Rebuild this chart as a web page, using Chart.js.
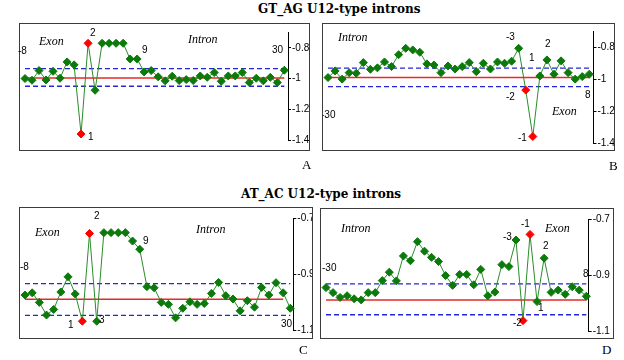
<!DOCTYPE html>
<html>
<head>
<meta charset="utf-8">
<script src="https://cdn.jsdelivr.net/npm/chart.js@4.4.1/dist/chart.umd.min.js"></script>
<style>
body { margin: 0; background: #fff; width: 624px; height: 360px; position: relative; overflow: hidden; font-family: "Liberation Sans", Arial, sans-serif; color: #000; }
.box { position: absolute; box-sizing: border-box; border: 1px solid #3c3c3c; overflow: hidden; }
.box canvas { position: absolute; left: 0; top: 0; }
.t { position: absolute; font-size: 10px; line-height: 10px; white-space: nowrap; color: #000; }
.it { position: absolute; font-family: "Liberation Serif", serif; font-style: italic; font-size: 12px; line-height: 12px; white-space: nowrap; color: #000; }
.title { position: absolute; font-family: "DejaVu Serif", serif; font-weight: bold; font-size: 12px; line-height: 12px; white-space: nowrap; color: #000; }
.letter { position: absolute; font-family: "Liberation Serif", serif; font-size: 13px; line-height: 13px; color: #000; }
</style>
</head>
<body>

<div class="title" style="left:258px;top:3px">GT_AG U12-type introns</div>
<div class="title" style="left:241px;top:188px">AT_AC U12-type introns</div>

<div class="box" id="boxA"><canvas id="chartA"></canvas></div>
<div class="box" id="boxB"><canvas id="chartB"></canvas><span class="t" style="left:-2px;top:86px">-30</span></div>
<div class="box" id="boxC"><canvas id="chartC"></canvas></div>
<div class="box" id="boxD"><canvas id="chartD"></canvas></div>

<!-- panel A labels -->
<span class="t" style="left:18px;top:46px">-8</span>
<span class="it" style="left:39px;top:35px">Exon</span>
<span class="t" style="left:90px;top:28px">2</span>
<span class="t" style="left:88px;top:132px">1</span>
<span class="t" style="left:142px;top:45px">9</span>
<span class="it" style="left:188px;top:33px">Intron</span>
<span class="t" style="left:272px;top:45px">30</span>

<!-- panel B labels -->
<span class="it" style="left:338px;top:31px">Intron</span>
<span class="t" style="left:506px;top:32px">-3</span>
<span class="t" style="left:529px;top:53px">1</span>
<span class="t" style="left:545px;top:39px">2</span>
<span class="t" style="left:506px;top:92px">-2</span>
<span class="t" style="left:585px;top:90px">8</span>
<span class="it" style="left:552px;top:105px">Exon</span>
<span class="t" style="left:518px;top:133px">-1</span>

<!-- panel C labels -->
<span class="t" style="left:20px;top:262px">-8</span>
<span class="it" style="left:35px;top:226px">Exon</span>
<span class="t" style="left:94px;top:211px">2</span>
<span class="t" style="left:143px;top:236px">9</span>
<span class="it" style="left:196px;top:223px">Intron</span>
<span class="t" style="left:68px;top:320px">1</span>
<span class="t" style="left:99px;top:315px">3</span>
<span class="t" style="left:281px;top:319px">30</span>

<!-- panel D labels -->
<span class="it" style="left:341px;top:222px">Intron</span>
<span class="t" style="left:322px;top:263px">-30</span>
<span class="t" style="left:503px;top:232px">-3</span>
<span class="t" style="left:521px;top:219px">-1</span>
<span class="it" style="left:545px;top:222px">Exon</span>
<span class="t" style="left:543px;top:241px">2</span>
<span class="t" style="left:583px;top:269px">8</span>
<span class="t" style="left:538px;top:303px">1</span>
<span class="t" style="left:513px;top:318px">-2</span>

<span class="letter" style="left:302px;top:158px">A</span>
<span class="letter" style="left:609px;top:159px">B</span>
<span class="letter" style="left:299px;top:343px">C</span>
<span class="letter" style="left:602px;top:343px">D</span>

<script>
// positions relative to the splice site
const donorPos = [-8, -7, -6, -5, -4, -3, -2, -1, 1, 2, 3, 4, 5, 6, 7, 8, 9, 10, 11, 12, 13, 14, 15, 16, 17, 18, 19, 20, 21, 22, 23, 24, 25, 26, 27, 28, 29, 30];
const acceptorPos = [-30, -29, -28, -27, -26, -25, -24, -23, -22, -21, -20, -19, -18, -17, -16, -15, -14, -13, -12, -11, -10, -9, -8, -7, -6, -5, -4, -3, -2, -1, 1, 2, 3, 4, 5, 6, 7, 8];

// GT_AG donor (A) and acceptor (B)
const valuesA = [-0.999, -1.01, -0.947, -1.008, -0.952, -0.997, -0.891, -0.91, -1.359, -0.77, -1.075, -0.77, -0.77, -0.77, -0.77, -0.872, -0.872, -0.956, -0.947, -0.988, -1.014, -0.984, -1.012, -1.006, -1.012, -0.982, -0.991, -0.96, -1.017, -0.982, -0.982, -0.96, -1.025, -0.997, -1.014, -0.991, -1.025, -0.945];
const valuesB = [-0.988, -0.946, -0.998, -0.957, -0.961, -0.894, -0.936, -0.927, -0.89, -0.919, -0.844, -0.804, -0.814, -0.829, -0.902, -0.909, -0.957, -0.915, -0.934, -0.919, -0.894, -0.951, -0.898, -0.934, -0.89, -0.898, -0.885, -0.804, -1.067, -1.359, -0.978, -0.877, -0.967, -0.883, -0.957, -0.998, -0.982, -0.967];
// AT_AC donor (C) and acceptor (D)
const valuesC = [-0.974, -0.966, -1.0, -1.045, -1.025, -0.963, -0.909, -0.97, -1.067, -0.755, -1.067, -0.752, -0.752, -0.752, -0.752, -0.782, -0.811, -0.944, -0.948, -1.0, -1.007, -1.055, -1.021, -0.998, -1.007, -1.004, -0.968, -0.929, -0.976, -0.988, -1.03, -0.994, -1.017, -0.947, -0.974, -0.93, -0.966, -1.021];
const valuesD = [-0.945, -0.963, -0.98, -0.974, -0.985, -0.989, -0.963, -0.963, -0.92, -0.89, -0.921, -0.832, -0.849, -0.781, -0.815, -0.837, -0.852, -0.902, -0.937, -0.898, -0.898, -0.935, -0.88, -0.974, -0.961, -0.863, -0.87, -0.775, -1.063, -0.755, -0.995, -0.84, -0.962, -0.954, -0.969, -0.942, -0.954, -0.976];

// red points (splice site positions)
const redA = [8, 9];
const redB = [28, 29];
const redC = [8, 9];
const redD = [28, 29];

// mean (red line) and mean +- sd (blue dashes)
const meanA = -0.995, bandA = [-0.935, -1.049];
const meanB = -0.988, bandB = [-0.929, -1.045];
const meanC = -0.989, bandC = [-0.933, -1.046];
const meanD = -0.989, bandD = [-0.932, -1.042];

// y axis ticks
const ticksGT = [-0.8, -1, -1.2, -1.4];
const ticksAT = [-0.7, -0.9, -1.1];

const green = '#0b7a0b';
const red = '#ff0000';

function makePanel(boxId, canvasId, pos, values, reds, mean, meanEnd, band, yMin, yMax, ticks, g) {
    const box = document.getElementById(boxId);
    box.style.left = g.box[0] + 'px';
    box.style.top = g.box[1] + 'px';
    box.style.width = (g.box[2] - g.box[0]) + 'px';
    box.style.height = (g.box[3] - g.box[1]) + 'px';

    const cl = g.box[0] + 1, ct = g.box[1] + 1;
    const cw = g.box[2] - g.box[0] - 2, ch = g.box[3] - g.box[1] - 2;
    const canvas = document.getElementById(canvasId);
    canvas.width = cw;
    canvas.height = ch;
    canvas.style.width = cw + 'px';
    canvas.style.height = ch + 'px';

    const last = pos.length - 1;
    const axisW = cl + cw - g.axis;
    const xMax = last * (g.axis - g.first) / (g.last - g.first);

    new Chart(canvas, {
        type: 'line',
        data: {
            datasets: [{
                data: values.map((v, i) => ({ x: i, y: v })),
                borderColor: '#2a8c2a',
                borderWidth: 1,
                pointStyle: 'rectRot',
                pointRadius: 4,
                pointBorderWidth: 1,
                pointBackgroundColor: c => reds.includes(c.dataIndex) ? red : green,
                pointBorderColor: c => reds.includes(c.dataIndex) ? red : green,
                tension: 0,
                clip: false
            }, {
                data: [{ x: 0, y: mean }, { x: meanEnd, y: mean }],
                borderColor: '#e52a2a',
                borderWidth: 1.5,
                pointRadius: 0,
                clip: false
            }, {
                data: [{ x: 0, y: band[0] }, { x: last, y: band[0] }],
                borderColor: '#2626d8',
                borderWidth: 1.3,
                borderDash: [5, 3],
                pointRadius: 0,
                clip: false
            }, {
                data: [{ x: 0, y: band[1] }, { x: last, y: band[1] }],
                borderColor: '#2626d8',
                borderWidth: 1.3,
                borderDash: [5, 3],
                pointRadius: 0,
                clip: false
            }]
        },
        options: {
            responsive: false,
            animation: false,
            events: [],
            layout: {
                padding: { left: g.first - cl, right: 0, top: g.top - ct, bottom: ct + ch - g.bottom }
            },
            plugins: { legend: { display: false }, tooltip: { enabled: false } },
            scales: {
                x: { type: 'linear', display: false, min: 0, max: xMax },
                y: {
                    type: 'linear',
                    position: 'right',
                    min: yMin,
                    max: yMax,
                    afterBuildTicks: s => { s.ticks = ticks.map(v => ({ value: v })); },
                    afterFit: s => { s.width = axisW; },
                    border: { display: true, color: '#000', width: 1 },
                    grid: { drawOnChartArea: false, drawTicks: true, tickLength: 3, color: '#000' },
                    ticks: {
                        padding: 1,
                        color: '#000',
                        font: { family: 'Liberation Sans', size: 10 },
                        callback: v => String(Math.round(v * 10) / 10)
                    }
                }
            }
        }
    });
}

makePanel('boxA', 'chartA', donorPos, valuesA, redA, meanA, 37, bandA, -1.4, -0.7, ticksGT,
    { box: [19, 23, 310, 151], first: 22.7, last: 284.3, axis: 288, top: 32.5, bottom: 140.3 });
makePanel('boxB', 'chartB', acceptorPos, valuesB, redB, meanB, 37, bandB, -1.4, -0.7, ticksGT,
    { box: [322, 23, 615, 151], first: 327.3, last: 589.3, axis: 593.5, top: 31.8, bottom: 143.3 });
makePanel('boxC', 'chartC', donorPos, valuesC, redC, meanC, 36, bandC, -1.1, -0.7, ticksAT,
    { box: [19, 207, 313, 339], first: 22.7, last: 290.3, axis: 293.3, top: 218, bottom: 330.5 });
makePanel('boxD', 'chartD', acceptorPos, valuesD, redD, meanD, 37, bandD, -1.1, -0.7, ticksAT,
    { box: [320, 208, 614, 339], first: 325.3, last: 586.3, axis: 588.7, top: 219, bottom: 331 });
</script>
</body>
</html>
